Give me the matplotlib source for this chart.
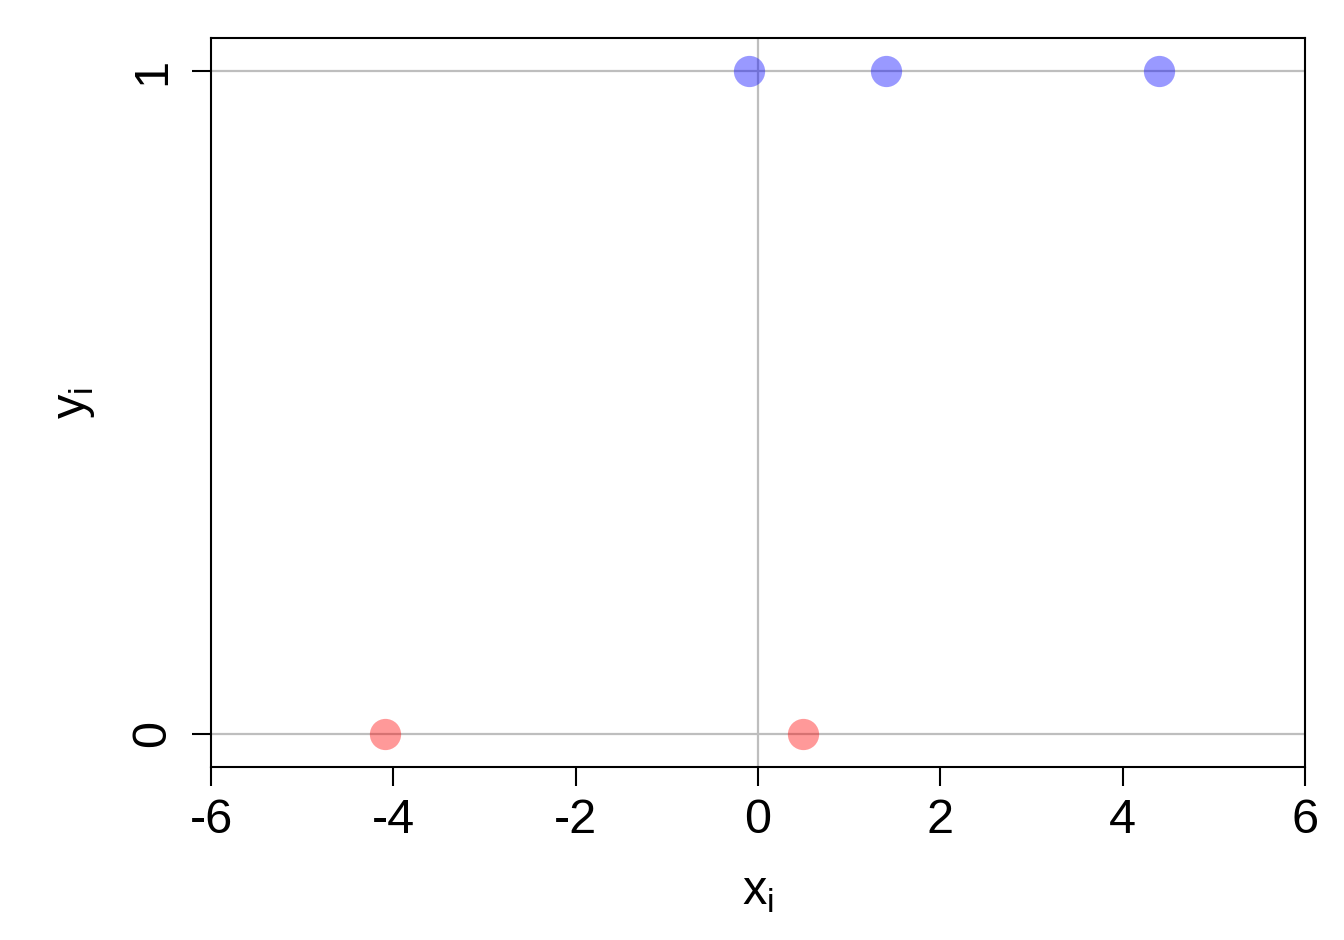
import matplotlib
matplotlib.use("Agg")
import matplotlib.pyplot as plt

# data
x_one = [-0.1, 1.4, 4.4]
x_zero = [-4.09, 0.49]
x_ticks = [-6, -4, -2, 0, 2, 4, 6]
y_ticks = [0, 1]

plt.rcParams['font.family'] = ['Liberation Sans', 'DejaVu Sans']

fig = plt.figure(figsize=(13.44, 9.4), dpi=100)
ax = fig.add_axes([211/1344, 1 - 767/940, (1305-211)/1344, (767-38)/940])

# grid lines
ax.axhline(0, color='#bebebe', lw=1.6, zorder=1)
ax.axhline(1, color='#bebebe', lw=1.6, zorder=1)
ax.axvline(0, color='#bebebe', lw=1.6, zorder=1)

ax.plot(x_one, [1]*len(x_one), 'o', ms=22.5, mec='none', color=(0, 0, 1, 0.4), zorder=2)
ax.plot(x_zero, [0]*len(x_zero), 'o', ms=22.5, mec='none', color=(1, 0, 0, 0.4), zorder=2)

ax.set_xlim(-6, 6)
ax.set_ylim(-0.05, 1.05)
ax.set_xticks(x_ticks)
ax.set_xticklabels([str(t) for t in x_ticks])
ax.set_yticks(y_ticks)
ax.set_yticklabels([str(t) for t in y_ticks], rotation=90, va='center')

for s in ax.spines.values():
    s.set_linewidth(1.5)
ax.tick_params(length=14, width=1.5, labelsize=35, pad=8)
ax.tick_params(axis='y', pad=12)

ax.set_xlabel('x$_\\mathregular{i}$', fontsize=35, labelpad=20)
ax.set_ylabel('y$_\\mathregular{i}$', fontsize=35, labelpad=24)

fig.savefig('out.png', dpi=100)
